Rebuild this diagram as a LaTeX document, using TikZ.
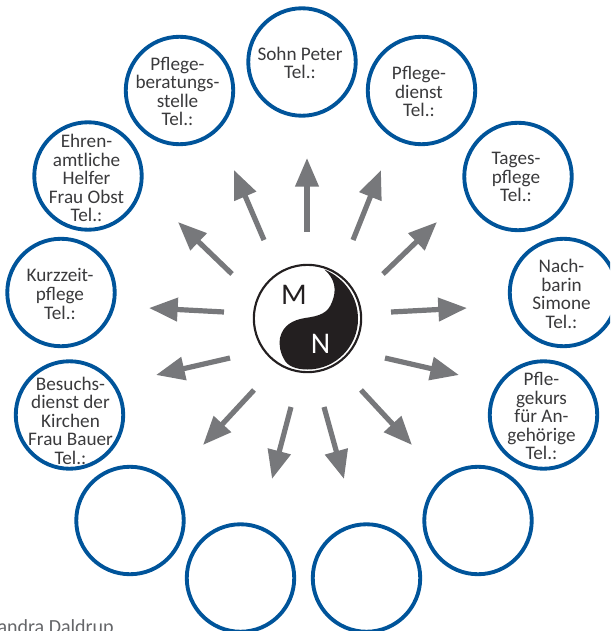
\documentclass[tikz,border=0pt]{standalone}
\usepackage{fontspec}
\setmainfont{Carlito}
\usetikzlibrary{arrows.meta}
\definecolor{ringblue}{HTML}{00549A}
\definecolor{arrowgrey}{HTML}{77787B}
\definecolor{inkblack}{HTML}{231F20}
\definecolor{textgrey}{HTML}{3A3A3C}
\tikzset{
  x=0.75pt,y=-0.75pt,
  bubble/.style={circle,draw=ringblue,line width=2.9pt,minimum size=80.6pt,inner sep=0pt},
  bubtext/.style={align=center,text=textgrey,inner sep=0pt,font=\fontsize{14.4}{13.9}\selectfont},
  spoke/.style={draw=arrowgrey,line width=3.9pt,-{Triangle[length=21.5pt,width=17pt,fill=arrowgrey]}},
  letter/.style={inner sep=0pt,font=\fontsize{22.5}{26}\selectfont}
}
\begin{document}
\begin{tikzpicture}
\useasboundingbox (0,0) rectangle (610,631);
\clip (0,0) rectangle (610,631);
% circles
\foreach \n/\x/\y in {sohn/302/62,dienst/421.5/90.5,tages/518/176.5,nach/563.5/292.5,kurs/543.5/415,
  beratung/179.5/90.5,ehren/88/176,kurz/61/292.5,besuch/69.5/415,
  be/130/520.5,bf/240.5/578,bg/366.5/578,bh/478/520.5}{
  \node[bubble] (\n) at (\x,\y) {};
}
% texts
\node[bubtext] (tsohn) at (300,63) {Sohn Peter\\Tel.:};
\node[bubtext] (tdienst) at (419,91.5) {Pflege-\\dienst\\Tel.:};
\node[bubtext] (ttages) at (516,177) {Tages-\\pflege\\Tel.:};
\node[bubtext] (tnach) at (561.5,294) {Nach-\\barin\\Simone\\Tel.:};
\node[bubtext] (tkurs) at (541.5,416) {Pfle-\\gekurs\\für An-\\gehörige\\Tel.:};
\node[bubtext] (tberatung) at (177.5,91.5) {Pflege-\\beratungs-\\stelle\\Tel.:};
\node[bubtext] (tehren) at (86.5,178) {Ehren-\\amtliche\\Helfer\\Frau Obst\\Tel.:};
\node[bubtext] (tkurz) at (60,294) {Kurzzeit-\\pflege\\Tel.:};
\node[bubtext] (tbesuch) at (70.5,420.5) {Besuchs-\\dienst der\\Kirchen\\Frau Bauer\\Tel.:};
% spokes
\foreach \i/\a/\b/\c/\d in {1/307/232/307/158,2/353/240/381/170,3/383/274/437/222,4/391/312/467/308,
  5/385/358/459/375,6/361/390/412/445,7/324/407/344/479,8/291/407/272/479,
  9/254/390/203/445,10/230/358/156/375,11/224/312/149/308,12/232/274/178/222,13/264/240/234/170}{
  \coordinate (s\i) at (\a,\b);
  \coordinate (e\i) at (\c,\d);
  \draw[spoke] (s\i) -- (e\i);
}
% yin-yang
\node[circle,draw=inkblack,line width=1.6pt,minimum size=80.5pt,inner sep=0pt] (yy) at (307.5,318.5) {};
\fill[inkblack] (324.5,269.5)
  .. controls (346,279) and (358,298) .. (358,319)
  .. controls (358,346) and (336,369.5) .. (307.5,369.5)
  .. controls (296,369.5) and (287,366) .. (284,359)
  .. controls (280,352) and (279,346) .. (280,338)
  .. controls (283,325) and (293,320) .. (305,318)
  .. controls (320,316) and (328,313) .. (332,302)
  .. controls (337,290) and (335,279) .. (324.5,269.5) -- cycle;
\node[letter,text=inkblack] (m) at (294,295) {M};
\node[letter,text=white] (n) at (320.5,343.5) {N};
% credit
\node[anchor=base east,inner sep=0pt,text=arrowgrey!85!black,font=\fontsize{15}{16}\selectfont] (credit) at (114,633) {Alexandra Daldrup};
\end{tikzpicture}
\end{document}
